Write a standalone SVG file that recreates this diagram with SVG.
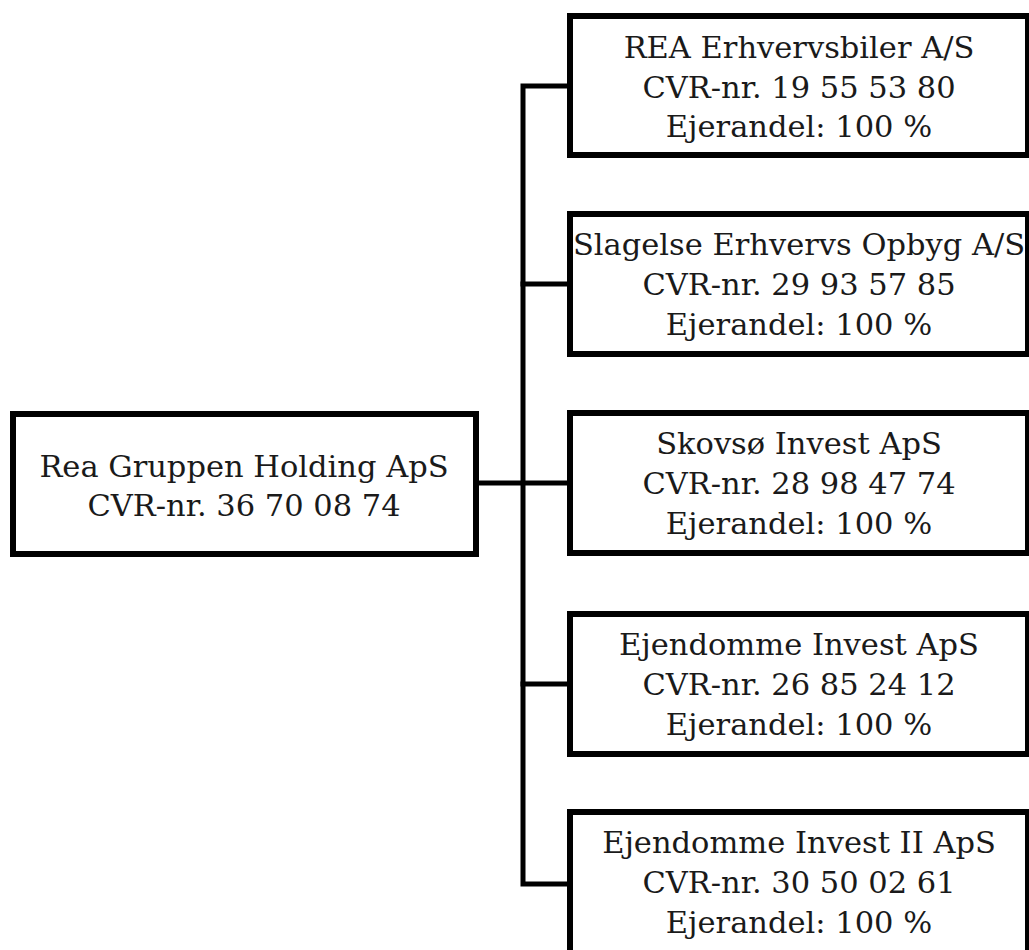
<svg xmlns="http://www.w3.org/2000/svg" width="1029" height="950" viewBox="0 0 1029 950">
<style>
.box{fill:#fff;stroke:#000;stroke-width:6}
.t{font-family:"DejaVu Serif","Liberation Serif",serif;font-size:30.5px;fill:#1a1a1a;text-anchor:middle}
.c{fill:none;stroke:#000;stroke-width:5;stroke-linejoin:miter;stroke-linecap:square}
</style>
<rect width="1029" height="950" fill="#fff"/>
<g id="connectors">
<path class="c" d="M479 483 H567"/>
<path class="c" d="M567 86 H523 V884 H567"/>
<path class="c" d="M523 284 H567"/>
<path class="c" d="M523 684 H567"/>
</g>
<g id="holding">
<rect class="box" x="13" y="414" width="463" height="140"/>
<text class="t" x="244" y="477">Rea Gruppen Holding ApS</text>
<text class="t" x="244" y="516">CVR-nr. 36 70 08 74</text>
</g>
<g id="rea">
<rect class="box" x="570" y="16" width="458" height="139"/>
<text class="t" x="799" y="58">REA Erhvervsbiler A/S</text>
<text class="t" x="799" y="98">CVR-nr. 19 55 53 80</text>
<text class="t" x="799" y="137">Ejerandel: 100 %</text>
</g>
<g id="slagelse">
<rect class="box" x="570" y="214" width="458" height="140"/>
<text class="t" x="799" y="255">Slagelse Erhvervs Opbyg A/S</text>
<text class="t" x="799" y="295">CVR-nr. 29 93 57 85</text>
<text class="t" x="799" y="335">Ejerandel: 100 %</text>
</g>
<g id="skovsoe">
<rect class="box" x="570" y="413" width="458" height="140"/>
<text class="t" x="799" y="454">Skovsø Invest ApS</text>
<text class="t" x="799" y="494">CVR-nr. 28 98 47 74</text>
<text class="t" x="799" y="534">Ejerandel: 100 %</text>
</g>
<g id="ejendomme">
<rect class="box" x="570" y="614" width="458" height="140"/>
<text class="t" x="799" y="655">Ejendomme Invest ApS</text>
<text class="t" x="799" y="695">CVR-nr. 26 85 24 12</text>
<text class="t" x="799" y="735">Ejerandel: 100 %</text>
</g>
<g id="ejendomme2">
<rect class="box" x="570" y="812" width="458" height="145"/>
<text class="t" x="799" y="853">Ejendomme Invest II ApS</text>
<text class="t" x="799" y="893">CVR-nr. 30 50 02 61</text>
<text class="t" x="799" y="933">Ejerandel: 100 %</text>
</g>
</svg>
